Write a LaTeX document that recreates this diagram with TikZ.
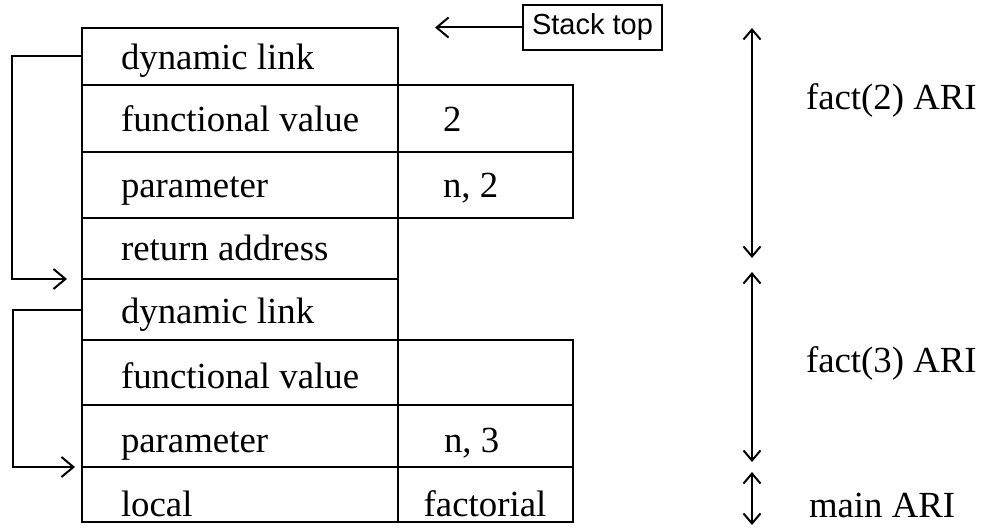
\documentclass[tikz,border=0pt]{standalone}
\usepackage{fontspec}
\setmainfont{Liberation Serif}
\newfontfamily\handfont{Liberation Sans}
\usetikzlibrary{arrows.meta}
\begin{document}
\begin{tikzpicture}[x=1pt,y=-1pt,
  line width=2pt,
  cell/.style={draw, rectangle, inner sep=0pt, outer sep=0pt},
  lbl/.style={anchor=base west, inner sep=0pt, font=\fontsize{36.8}{40}\selectfont},
  clbl/.style={anchor=base, inner sep=0pt, font=\fontsize{36.8}{40}\selectfont},
  tip/.style={-{Straight Barb[length=12pt,width=20pt]}},
  dtip/.style={{Straight Barb[length=10pt,width=17pt]}-{Straight Barb[length=10pt,width=17pt]}},
  stbox/.style={draw, rectangle, inner sep=0pt, minimum width=139pt, minimum height=45pt,
    font=\handfont\fontsize{29}{32}\selectfont},
]
\useasboundingbox (0,0) rectangle (989,532);

% left column cells
\node[cell, minimum width=316pt, minimum height=57pt] (c1) at (240,56.5) {};
\node[cell, minimum width=316pt, minimum height=67pt] (c2) at (240,118.5) {};
\node[cell, minimum width=316pt, minimum height=66pt] (c3) at (240,185) {};
\node[cell, minimum width=316pt, minimum height=61pt] (c4) at (240,248.5) {};
\node[cell, minimum width=316pt, minimum height=61pt] (c5) at (240,309.5) {};
\node[cell, minimum width=316pt, minimum height=65pt] (c6) at (240,372.5) {};
\node[cell, minimum width=316pt, minimum height=62pt] (c7) at (240,436) {};
\node[cell, minimum width=316pt, minimum height=55pt] (c8) at (240,494.5) {};

% right column cells
\node[cell, minimum width=175pt, minimum height=67pt] (r2) at (485.5,118.5) {};
\node[cell, minimum width=175pt, minimum height=66pt] (r3) at (485.5,185) {};
\node[cell, minimum width=175pt, minimum height=65pt] (r6) at (485.5,372.5) {};
\node[cell, minimum width=175pt, minimum height=62pt] (r7) at (485.5,436) {};
\node[cell, minimum width=175pt, minimum height=55pt] (r8) at (485.5,494.5) {};

% row labels
\node[lbl] (t1) at (120,70) {dynamic link};
\node[lbl] (t2) at (120,132) {functional value};
\node[lbl] (t3) at (120,197) {parameter};
\node[lbl] (t4) at (120,260) {return address};
\node[lbl] (t5) at (120,323) {dynamic link};
\node[lbl] (t6) at (120,388) {functional value};
\node[lbl] (t7) at (120,452) {parameter};
\node[lbl] (t8) at (120,516) {local};

% values
\node[lbl] (v2) at (442,132) {2};
\node[lbl] (v3) at (442,197) {n, 2};
\node[lbl] (v7) at (443,452) {n, 3};
\node[clbl] (v8) at (485,516) {factorial};

% dynamic links
\draw[tip] (c1.west) -- ++(-70,0) |- ([xshift=-15pt]c4.south west);
\draw[tip] (c5.west) -- ++(-69,0) |- ([xshift=-7pt]c7.south west);

% stack top
\node[stbox] (st) at (592.5,27.5) {Stack top};
\coordinate (sttip) at (435,27.5);
\draw[tip] (st.west) -- (sttip);

% ARI ranges
\coordinate (a1t) at (752,28);
\coordinate (a1b) at (752,258);
\coordinate (a2t) at (752,272);
\coordinate (a2b) at (752,462);
\coordinate (a3t) at (752,472);
\coordinate (a3b) at (752,525);
\draw[dtip] (a1t) -- (a1b);
\draw[dtip] (a2t) -- (a2b);
\draw[dtip] (a3t) -- (a3b);

\node[lbl] (l1) at (805,110) {fact(2) ARI};
\node[lbl] (l2) at (805,372) {fact(3) ARI};
\node[lbl] (l3) at (808,517) {main ARI};
\end{tikzpicture}
\end{document}
